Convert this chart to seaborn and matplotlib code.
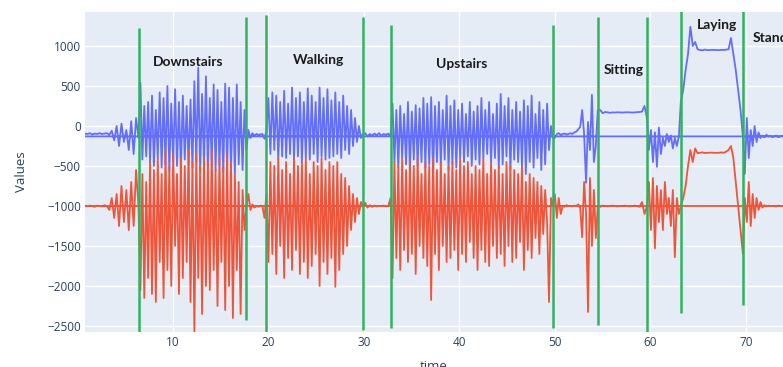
import numpy as np
import pandas as pd
import seaborn as sb
import matplotlib.pyplot as plt

# segment start/end times and the values
seg_edges = [0.8, 6.4, 17.7, 19.8, 29.9, 32.8, 49.8, 54.5, 59.65, 63.2, 69.7, 74.0]

blue_pre = [-95, -100, -90, -105, -95, -100, -90, -100, -95, -90, -110, -60, -180, 0, -250, 30, -200, -50, -300, 60, -350, 100, -150]
red_pre = [-1000, -1005, -995, -1000, -1010, -995, -1000, -1005, -990, -1000, -1050, -900, -1150, -850, -1250, -750, -1200, -800, -1300, -700, -1250, -550, -1000]

blue_down = [-150, 540, -420, 250, -380, 300, -450, 380, -500, 200, -400, 420, -520, 350, -480, 500, -560, 280, -450, 460,
             -500, 300, -550, 380, -420, 250, -480, 330, -520, 560, -460, 730, -580, 400, -500, 620, -540, 350, -480, 520,
             -560, 450, -500, 300, -590, 530, -520, 480, -560, 350, -600, 520, -480, 300, -550, 200, -300]
red_down = [-1000, -2050, -600, -2150, -700, -1900, -450, -2100, -550, -2200, -400, -1700, -600, -2150, -300, -1800, -500, -2000, -350, -1500,
            -600, -2100, -400, -1900, -500, -1700, -300, -2200, -450, -2580, -350, -1900, -500, -2350, -400, -2000, -450, -2050, -300, -1800,
            -550, -2250, -400, -1700, -500, -2300, -350, -2000, -450, -2400, -600, -1800, -700, -2350, -800, -1300, -1000]

blue_gap1 = [-250, -50, -150, -90, -120, -100, -110, -105, -100, -160, -60]
red_gap1 = [-1200, -850, -1050, -980, -1020, -1000, -1010, -995, -1000, -1150, -850]

blue_walk = [-400, 350, -350, 420, -300, 380, -420, 300, -380, 440, -400, 280, -350, 480, -420, 350, -380, 420, -450, 300,
             -400, 470, -420, 380, -350, 300, -450, 480, -380, 350, -420, 460, -400, 320, -380, 420, -350, 300, -400, 380,
             -300, 250, -350, 200, -250, 100, -200, 0, -150, -100]
red_walk = [-700, -1700, -450, -1600, -500, -1850, -400, -1500, -550, -1900, -450, -1650, -600, -1800, -400, -1550, -500, -1850, -450, -1700,
            -400, -1900, -600, -1750, -450, -1600, -500, -2000, -400, -1700, -550, -1850, -450, -1650, -500, -2010, -450, -1800, -600, -1600,
            -650, -1500, -750, -1300, -850, -1200, -900, -1100, -950, -1000]

blue_gap2 = [-150, -90, -130, -100, -120, -95, -115, -90, -120, -100, -110, -95, -130]
red_gap2 = [-1100, -960, -1020, -990, -1010, -995, -1005, -1000, -1000, -995, -1005, -1000, -900]

blue_up = [-500, 280, -450, 200, -520, 250, -400, 150, -480, 300, -550, 180, -420, 260, -500, 220, -450, 350, -520, 280,
           -480, 360, -600, 250, -450, 300, -500, 200, -420, 380, -550, 250, -480, 320, -520, 200, -400, 280, -450, 150,
           -380, 300, -500, 180, -420, 250, -480, 350, -400, 200, -350, 300, -450, 150, -400, 280, -520, 400, -480, 250,
           -380, 350, -550, 200, -420, 300, -450, 180, -500, 320, -600, 250, -450, 380, -520, 150, -400, 300, -550, 200,
           -480, 280, -300, 0, -150]
red_up = [-800, -1900, -450, -1650, -500, -1800, -400, -1550, -550, -1700, -450, -1600, -500, -1850, -400, -1500, -600, -1650, -450, -1750,
          -500, -2175, -400, -1600, -550, -1800, -450, -1500, -600, -1700, -500, -1650, -450, -1550, -550, -1800, -400, -1600, -500, -1700,
          -450, -1450, -600, -1650, -500, -1800, -550, -1550, -400, -1700, -600, -1750, -450, -1500, -550, -1650, -500, -1600, -600, -1750,
          -450, -1500, -500, -1700, -550, -1650, -600, -1450, -500, -1800, -700, -1550, -600, -1650, -650, -1400, -700, -1600, -750, -1350,
          -800, -1200, -2200, -900, -1000]

blue_trans = [-350, -150, -100, -90, -110, -100, -95, -105, -100, -90, -100, -80, -70, -40, -10, 200, -100, -710, 50, -300, 390, -450, -250, 200]
red_trans = [-1000, -850, -1150, -900, -1100, -1000, -1010, -990, -1000, -1000, -1005, -995, -1000, -980, -1020, -1390, -700, -1100, -2325, -650, -1500, -800, -1400, -1000]

blue_sit = [250, 200, 160, 175, 170, 165, 170, 168, 172, 170, 168, 170, 172, 170, 168, 170, 172, 175, 180, 250, 100]
red_sit = [-1000, -1010, -995, -1000, -1005, -1000, -995, -1000, -1005, -1000, -1000, -995, -1000, -1005, -1000, -995, -1000, -1010, -950, -1100, -1000]

blue_mid = [-100, -300, -50, -450, -80, -510, -20, -350, -150, -250, -100, -200, -120, -280, -150, -250, -130, 300]
red_mid = [-1000, -700, -1300, -650, -1530, -750, -1200, -800, -1300, -700, -1100, -900, -1250, -800, -1640, -900, -1100, -1000]

blue_lay = [300, 450, 700, 900, 1240, 1000, 1050, 960, 950, 945, 955, 950, 948, 952, 950, 950, 948, 952, 950, 955, 960, 1100, 900, 700, 450, 200, -130]
red_lay = [-1000, -900, -750, -500, -300, -450, -280, -340, -335, -330, -338, -335, -335, -332, -336, -335, -335, -330, -335, -320, -300, -250, -400, -700, -1000, -1300, -1600]

blue_stand = [-300, -600, 100, -400, -50, -250, 0, -200, -80, -150, -120, -140, -110, -130, -125, -135, -130, -120, -135, -130, -125, -130]
red_stand = [-1300, -900, -1200, -700, -1250, -850, -1150, -900, -1050, -950, -1020, -990, -1005, -995, -1000, -1000, -1000, -1005, -995, -1000, -1000, -1000]

blue_segs = [blue_pre, blue_down, blue_gap1, blue_walk, blue_gap2, blue_up, blue_trans, blue_sit, blue_mid, blue_lay, blue_stand]
red_segs = [red_pre, red_down, red_gap1, red_walk, red_gap2, red_up, red_trans, red_sit, red_mid, red_lay, red_stand]

# the trace ends by jumping back to its first time stamp
wrap_blue = -130
wrap_red = -1000

# activity boundaries (x, top, bottom)
bound_x = [6.4, 17.7, 19.8, 29.9, 32.8, 49.8, 54.5, 59.65, 63.2, 69.7]
bound_top = [1225, 1362, 1387, 1362, 1262, 1262, 1362, 1362, 1450, 1450]
bound_bot = [-2600, -2425, -2600, -2550, -2525, -2525, -2490, -2600, -2340, -2240]

act_names = ['Downstairs', 'Walking', 'Upstairs', 'Sitting', 'Laying', 'Standing']
act_x = [11.6, 25.2, 40.3, 57.2, 67.0, 70.7]
act_y = [800, 825, 775, 700, 1262, 1100]
act_ha = ['center', 'center', 'center', 'center', 'center', 'left']


def build(segs, wrap):
    t, v = [], []
    for i, s in enumerate(segs):
        tt = np.linspace(seg_edges[i], seg_edges[i + 1], len(s))
        if i > 0:
            tt, s = tt[1:], s[1:]
        t.extend(tt)
        v.extend(s)
    t.append(seg_edges[0])
    v.append(wrap)
    return pd.DataFrame({'time': t, 'Values': v})


df_b = build(blue_segs, wrap_blue)
df_r = build(red_segs, wrap_red)

sb.set_theme(style='darkgrid', rc={'axes.facecolor': '#e5ecf6', 'grid.color': 'white',
                                   'grid.linewidth': 1.0})
plt.rcParams['font.family'] = ['Open Sans', 'DejaVu Sans']

fig = plt.figure(figsize=(7.83, 3.67), dpi=100)
ax = fig.add_axes([0.1086, 0.0954, 0.8914, 0.8719])

sb.lineplot(data=df_b, x='time', y='Values', sort=False, estimator=None, color='#636efa', lw=1.3, ax=ax)
sb.lineplot(data=df_r, x='time', y='Values', sort=False, estimator=None, color='#ef553b', lw=1.3, ax=ax)
ax.vlines(bound_x, bound_bot, bound_top, colors='#2fb35f', lw=1.8, zorder=5)

# last label runs off the right edge, as in the original screenshot
for name, x, y, ha in zip(act_names, act_x, act_y, act_ha):
    ax.text(x, y, name, ha=ha, va='center', fontsize=10, fontweight='bold',
            family=['Lato', 'DejaVu Sans'], color='#1a1a1a', zorder=6, clip_on=True)

ax.set_xlim(0.8, 73.9)
ax.set_ylim(-2575, 1425)
ax.set_xticks([10, 20, 30, 40, 50, 60, 70])
ax.set_yticks([-2500, -2000, -1500, -1000, -500, 0, 500, 1000])
ax.tick_params(axis='both', labelsize=8.5, colors='#2a3f5f', pad=3, length=0)
ax.set_yticklabels(['\u22122500', '\u22122000', '\u22121500', '\u22121000', '\u2212500', '0', '500', '1000'])
ax.set_xlabel('time', fontsize=9.5, color='#2a3f5f', labelpad=8)
ax.set_ylabel('Values', fontsize=9.5, color='#2a3f5f', labelpad=14)
for s in ax.spines.values():
    s.set_visible(False)

fig.savefig('out.png', dpi=100)
